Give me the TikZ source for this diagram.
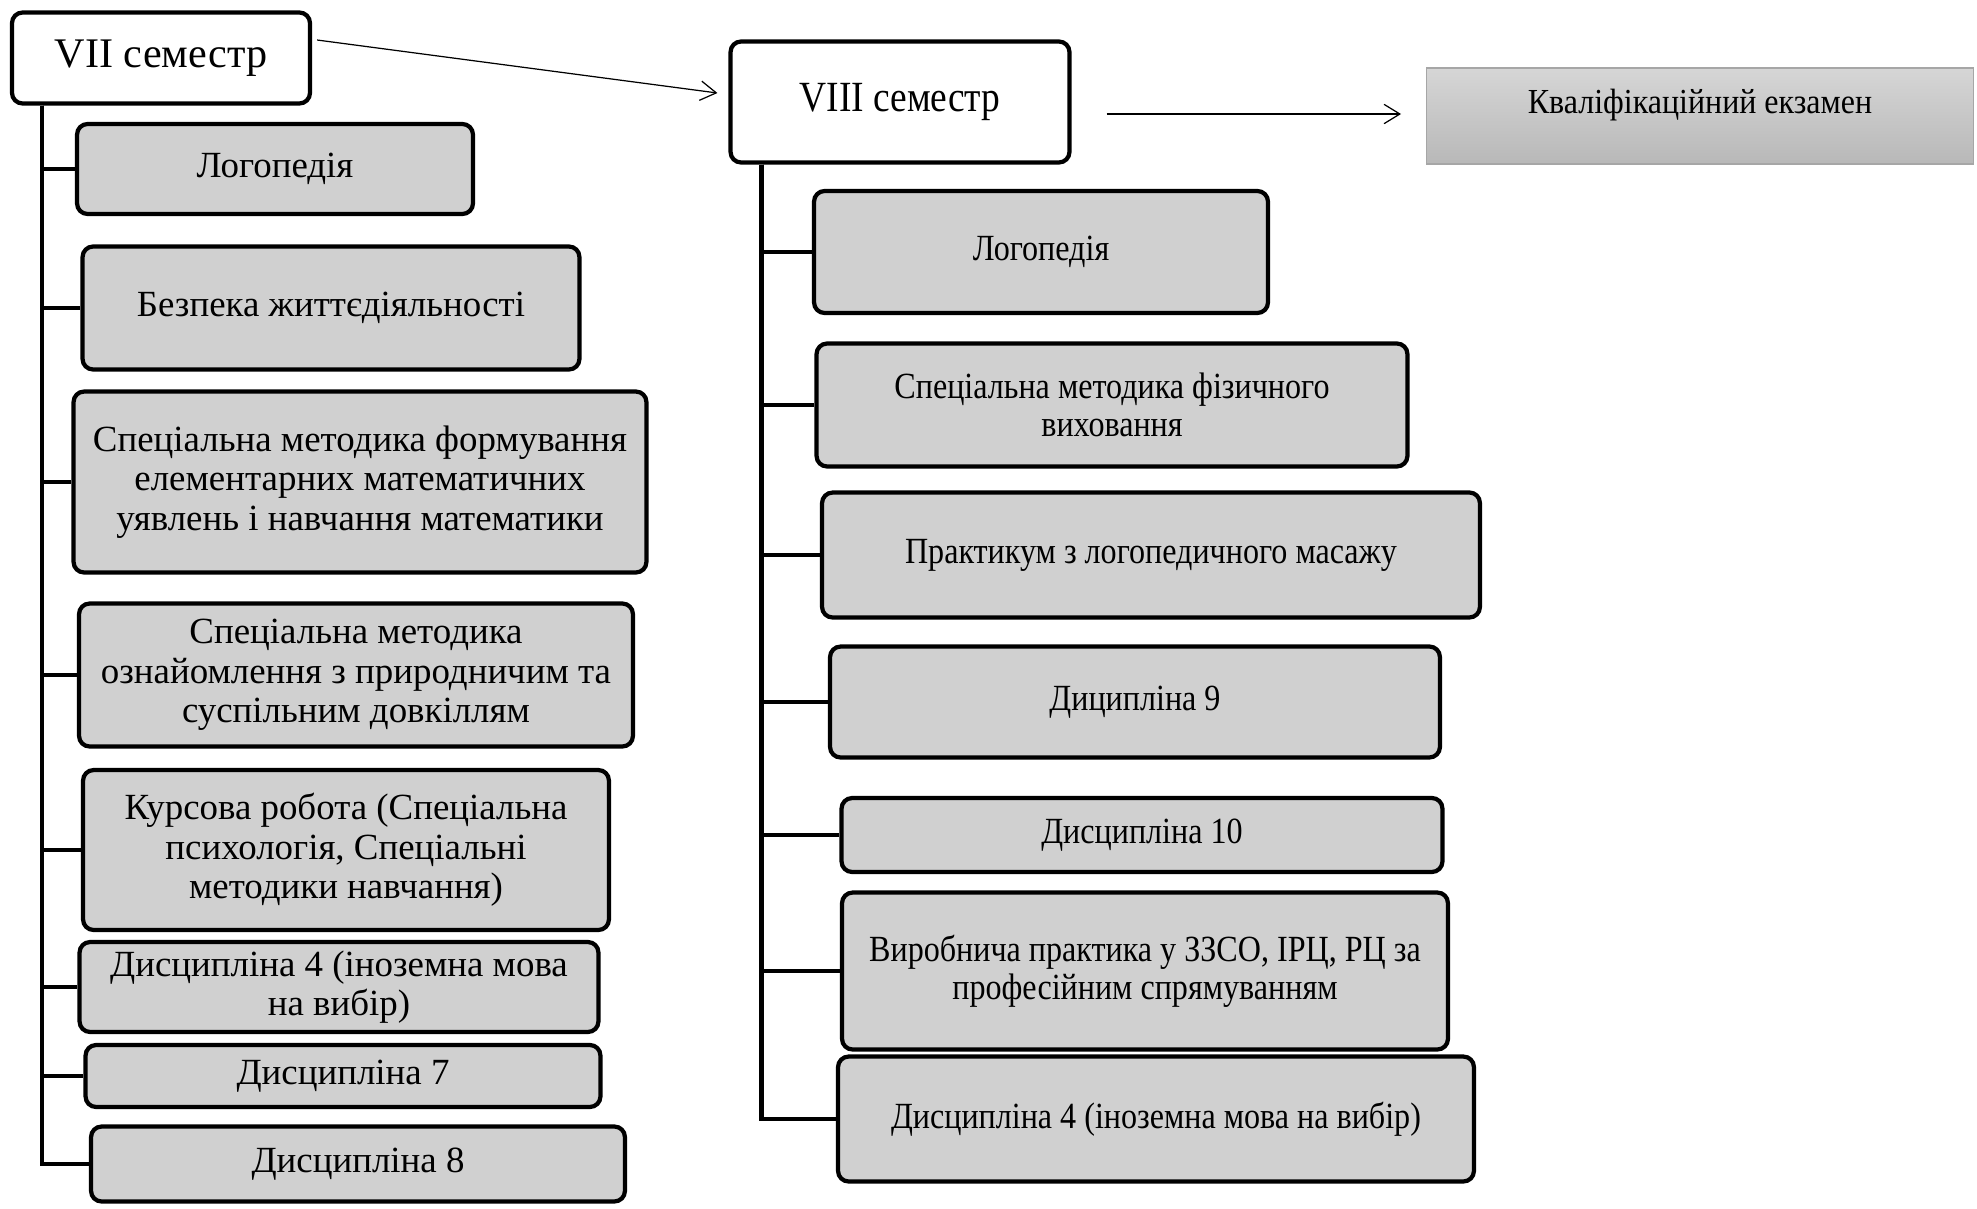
\documentclass[tikz,border=0pt]{standalone}
\usepackage{fontspec}
\setmainfont{Liberation Serif}
\newfontfamily\narrowserif[FakeStretch=0.87]{Liberation Serif}
\newfontfamily\examserif[FakeStretch=0.91]{Liberation Serif}
\usetikzlibrary{calc,arrows.meta}
\definecolor{boxgray}{RGB}{208,208,208}
\definecolor{examtop}{RGB}{214,214,214}
\definecolor{exambot}{RGB}{184,184,184}
\tikzset{
  subj/.style={draw, line width=2.4pt, rounded corners=6pt, fill=boxgray, align=center, inner sep=2pt,
    font=\fontsize{21}{22.5}\selectfont},
  subjr/.style={subj, font=\narrowserif\fontsize{21}{21.5}\selectfont},
  sem/.style={subj, fill=white},
  trunk/.style={line width=2.4pt},
  link/.style={line width=0.7pt, -{Straight Barb[length=9pt,width=11pt,line width=0.7pt]}}
}

\begin{document}
\begin{tikzpicture}[x=0.02cm, y=-0.02cm]
		%%%%% START %%%%%
		\useasboundingbox (0,0) rectangle (1977,1208);
		
		% VII semester
		\node[sem, minimum width=5.96cm, minimum height=1.82cm, font=\fontsize{24}{28}\selectfont] (s7) at (161,58) {VII семестр};
		\node[subj, minimum width=7.92cm, minimum height=1.80cm] (l1) at (275,169) {Логопедія};
		\node[subj, minimum width=9.94cm, minimum height=2.46cm] (l2) at (331,308) {Безпека життєдіяльності};
		\node[subj, minimum width=11.46cm, minimum height=3.62cm] (l3) at (360,482) {Спеціальна методика формування\\елементарних математичних\\уявлень і навчання математики};
		\node[subj, minimum width=11.08cm, minimum height=2.86cm] (l4) at (356,675) {Спеціальна методика\\ознайомлення з природничим та\\суспільним довкіллям};
		\node[subj, minimum width=10.52cm, minimum height=3.20cm] (l5) at (346,850) {Курсова робота (Спеціальна\\психологія, Спеціальні\\методики навчання)};
		\node[subj, minimum width=10.38cm, minimum height=1.80cm] (l6) at (339,987) {Дисципліна 4 (іноземна мова\\на вибір)};
		\node[subj, minimum width=10.30cm, minimum height=1.24cm] (l7) at (343,1076) {Дисципліна 7};
		\node[subj, minimum width=10.68cm, minimum height=1.50cm] (l8) at (358,1164) {Дисципліна 8};
		
		\coordinate (tl) at ($(s7.south west)+(32,0)$);
		\foreach \n in {l1,l2,l3,l4,l5,l6,l7,l8}
			\draw[trunk] (tl) |- (\n.west);
		
		% VIII semester
		\node[sem, minimum width=6.78cm, minimum height=2.42cm, font=\narrowserif\fontsize{24.5}{28}\selectfont] (s8) at (900,102) {VIII семестр};
		\node[subjr, minimum width=9.08cm, minimum height=2.44cm] (r1) at (1041,252) {Логопедія};
		\node[subjr, minimum width=11.82cm, minimum height=2.46cm] (r2) at (1112,405) {Спеціальна методика фізичного\\виховання};
		\node[subjr, minimum width=13.16cm, minimum height=2.50cm] (r3) at (1151,555) {Практикум з логопедичного масажу};
		\node[subjr, minimum width=12.20cm, minimum height=2.22cm] (r4) at (1135,702) {Диципліна 9};
		\node[subjr, minimum width=12.02cm, minimum height=1.48cm] (r5) at (1142,835) {Дисципліна 10};
		\node[subjr, minimum width=12.12cm, minimum height=3.14cm] (r6) at (1145,971) {Виробнича практика у ЗЗСО, ІРЦ, РЦ за\\професійним спрямуванням};
		\node[subjr, minimum width=12.72cm, minimum height=2.50cm] (r7) at (1156,1119) {Дисципліна 4 (іноземна мова на вибір)};
		
		\coordinate (tr) at ($(s8.south west)+(33,0)$);
		\foreach \n in {r1,r2,r3,r4,r5,r6,r7}
			\draw[trunk] (tr) |- (\n.west);
		
		% exam
		\node[draw=gray!70, line width=0.6pt, top color=examtop, bottom color=exambot, minimum width=10.94cm, minimum height=1.92cm,
			font=\examserif\fontsize{20}{22}\selectfont] (ex) at (1700,116) {\raisebox{17pt}{Кваліфікаційний екзамен}};
		
		\draw[link] ($(s7.east)+(5,-18)$) -- ($(s8.west)+(-11,-9)$);
		\draw[link] ($(s8.east)+(35,12)$) -- ($(ex.west)+(-25,-2)$);
		%%%%% END %%%%%
\end{tikzpicture}
\end{document}
